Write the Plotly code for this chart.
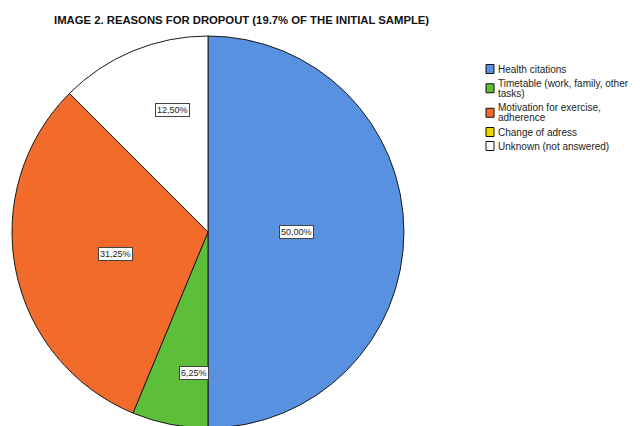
import plotly.graph_objects as go
import math

categories = ["Health citations", "Timetable (work, family, other tasks)",
              "Motivation for exercise, adherence", "Change of adress",
              "Unknown (not answered)"]
legend_lines = [["Health citations"],
                ["Timetable (work, family, other", "tasks)"],
                ["Motivation for exercise,", "adherence"],
                ["Change of adress"],
                ["Unknown (not answered)"]]
values = [50.0, 6.25, 31.25, 0.0, 12.5]
value_labels = ["50,00%", "6,25%", "31,25%", "", "12,50%"]
colors = ["#5891E0", "#5DBE3A", "#F26B2A", "#F2D600", "#FFFFFF"]
label_radius = [0.45, 0.77, 0.57, 0.0, 0.71]

W, H = 644, 464
cx, cy, R = 208, 232, 196

fig = go.Figure(go.Pie(
    labels=categories, values=values, sort=False, direction="clockwise",
    rotation=0, marker=dict(colors=colors, line=dict(color="#1a1a1a", width=1)),
    textinfo="none", hoverinfo="label+percent", showlegend=False,
    domain=dict(x=[(cx - R) / W, (cx + R) / W],
                y=[(H - (cy + R)) / H, (H - (cy - R)) / H]),
))

annotations = []
shapes = []
# slice value labels, placed at the middle angle of each slice
total = sum(values)
cum = 0.0
for v, lab, rf in zip(values, value_labels, label_radius):
    mid = (cum + v / 2) / total * 2 * math.pi
    cum += v
    if not lab:
        continue
    px = cx + rf * R * math.sin(mid)
    py = cy - rf * R * math.cos(mid)
    annotations.append(dict(
        x=px / W, y=1 - py / H, xref="paper", yref="paper", text=lab,
        showarrow=False, font=dict(family="Liberation Sans, Arial", size=9, color="#222"),
        bgcolor="white", bordercolor="#444", borderwidth=1, borderpad=1))

# title
annotations.append(dict(
    x=241 / W, y=1 - 20 / H, xref="paper", yref="paper",
    text="<b>IMAGE 2. REASONS FOR DROPOUT (19.7% OF THE INITIAL SAMPLE)</b>",
    showarrow=False, xanchor="center", yanchor="middle",
    font=dict(family="Liberation Sans, Arial", size=11.3, color="#111")))

# legend
line_h = 10.5
y = 69
for lines, col in zip(legend_lines, colors):
    n = len(lines)
    center = y + (n - 1) * line_h / 2
    shapes.append(dict(type="rect", xref="paper", yref="paper",
                       x0=486 / W, x1=494 / W,
                       y0=1 - (center + 4.5) / H, y1=1 - (center - 4.5) / H,
                       fillcolor=col, line=dict(color="#111", width=1)))
    for i, t in enumerate(lines):
        annotations.append(dict(
            x=496 / W, y=1 - (y + i * line_h) / H, xref="paper", yref="paper",
            text=t, showarrow=False, xanchor="left", yanchor="middle",
            font=dict(family="Liberation Sans, Arial", size=10, color="#222")))
    y += n * line_h + 3.5 if n > 1 else 14

fig.update_layout(
    width=W, height=H, margin=dict(l=0, r=0, t=0, b=0),
    paper_bgcolor="white", plot_bgcolor="white",
    annotations=annotations, shapes=shapes,
)

fig.write_html("out.html", config={"displayModeBar": False},
               post_script="document.body.style.margin='0';document.body.style.overflow='hidden';document.documentElement.style.overflow='hidden';")
